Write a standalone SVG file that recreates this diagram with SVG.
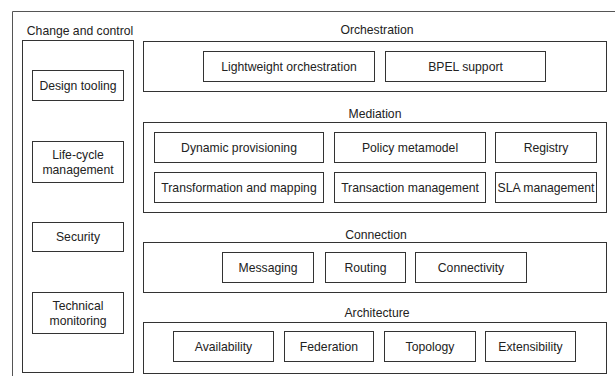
<svg xmlns="http://www.w3.org/2000/svg" width="615" height="376" viewBox="0 0 615 376">
<style>
.frame{fill:none;stroke:#555;stroke-width:1}
.grp{fill:#fff;stroke:#333;stroke-width:1}
.box{fill:#fff;stroke:#333;stroke-width:1}
text{font-family:"Liberation Sans",Arial,sans-serif;font-size:12.2px;fill:#222;text-anchor:middle}
</style>
<rect width="615" height="376" fill="#fff"/>
<path class="frame" d="M12.5,376 V11.5 H615"/>
<g id="change-and-control">
<text x="80" y="35">Change and control</text>
<rect class="grp" x="22.5" y="40.5" width="111" height="332"/>
</g>
<g id="design-tooling"><rect class="box" x="32.5" y="70.5" width="91" height="30"/><text x="78" y="89.5">Design tooling</text></g>
<g id="life-cycle"><rect class="box" x="32.5" y="141.5" width="91" height="41"/><text x="78" y="159">Life-cycle</text><text x="78" y="174">management</text></g>
<g id="security"><rect class="box" x="32.5" y="222.5" width="91" height="29"/><text x="78" y="241">Security</text></g>
<g id="technical-monitoring"><rect class="box" x="32.5" y="292.5" width="91" height="41"/><text x="78" y="310">Technical</text><text x="78" y="325">monitoring</text></g>

<g id="orchestration">
<text x="377" y="33.5">Orchestration</text>
<rect class="grp" x="143.5" y="41.5" width="463" height="50"/>
</g>
<g id="lightweight-orchestration"><rect class="box" x="203.5" y="51.5" width="171" height="30"/><text x="289" y="70.5">Lightweight orchestration</text></g>
<g id="bpel-support"><rect class="box" x="385.5" y="51.5" width="160" height="30"/><text x="465.5" y="70.5">BPEL support</text></g>

<g id="mediation">
<text x="375" y="117.5">Mediation</text>
<rect class="grp" x="143.5" y="122.5" width="463" height="90"/>
</g>
<g id="dynamic-provisioning"><rect class="box" x="154.5" y="132.5" width="169" height="30"/><text x="239" y="151.5">Dynamic provisioning</text></g>
<g id="policy-metamodel"><rect class="box" x="334.5" y="132.5" width="151" height="30"/><text x="410" y="151.5">Policy metamodel</text></g>
<g id="registry"><rect class="box" x="495.5" y="132.5" width="101" height="30"/><text x="546" y="151.5">Registry</text></g>
<g id="transformation-and-mapping"><rect class="box" x="154.5" y="172.5" width="169" height="30"/><text x="239" y="191.5">Transformation and mapping</text></g>
<g id="transaction-management"><rect class="box" x="334.5" y="172.5" width="151" height="30"/><text x="410" y="191.5">Transaction management</text></g>
<g id="sla-management"><rect class="box" x="495.5" y="172.5" width="101" height="30"/><text x="546" y="191.5">SLA management</text></g>

<g id="connection">
<text x="376" y="238.5">Connection</text>
<rect class="grp" x="143.5" y="242.5" width="463" height="50"/>
</g>
<g id="messaging"><rect class="box" x="222.5" y="252.5" width="91" height="30"/><text x="268" y="271.5">Messaging</text></g>
<g id="routing"><rect class="box" x="325.5" y="252.5" width="80" height="30"/><text x="365.5" y="271.5">Routing</text></g>
<g id="connectivity"><rect class="box" x="415.5" y="252.5" width="111" height="30"/><text x="471" y="271.5">Connectivity</text></g>

<g id="architecture">
<text x="377" y="317">Architecture</text>
<rect class="grp" x="143.5" y="322.5" width="463" height="51"/>
</g>
<g id="availability"><rect class="box" x="173.5" y="331.5" width="100" height="30"/><text x="223.5" y="350.5">Availability</text></g>
<g id="federation"><rect class="box" x="284.5" y="331.5" width="89" height="30"/><text x="329" y="350.5">Federation</text></g>
<g id="topology"><rect class="box" x="384.5" y="331.5" width="91" height="30"/><text x="430" y="350.5">Topology</text></g>
<g id="extensibility"><rect class="box" x="485.5" y="331.5" width="90" height="30"/><text x="530.5" y="350.5">Extensibility</text></g>
<g id="connectors"/>
</svg>
